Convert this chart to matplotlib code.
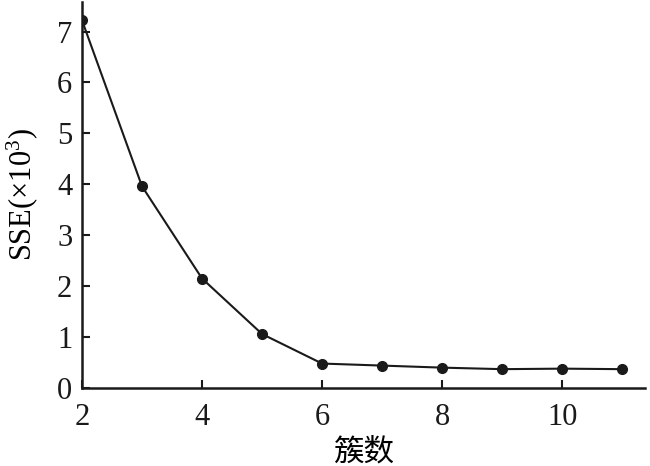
import matplotlib
matplotlib.use("Agg")
import matplotlib.pyplot as plt

plt.rcParams['font.family'] = ['Liberation Serif', 'Noto Sans CJK SC']
plt.rcParams['mathtext.fontset'] = 'custom'
plt.rcParams['mathtext.rm'] = 'Liberation Serif'
plt.rcParams['mathtext.it'] = 'Liberation Serif:italic'

clusters = [2, 3, 4, 5, 6, 7, 8, 9, 10, 11]
sse = [7.22, 3.96, 2.15, 1.06, 0.48, 0.44, 0.40, 0.37, 0.38, 0.37]
xticks = [2, 4, 6, 8, 10]
yticks = [0, 1, 2, 3, 4, 5, 6, 7]

fig = plt.figure(figsize=(6.5, 4.66), dpi=100)
ax = fig.add_axes([82/650, 1-388/466, (645-82)/650, 386/466])
ax.plot(clusters, sse, color='#1a1a1a', lw=1.5, marker='o', ms=7, mfc='#1a1a1a', mec='#1a1a1a')
ax.set_xlim(2, 11.38)
ax.set_ylim(0, 7.58)
ax.set_xticks(xticks)
ax.set_yticks(yticks)
for s in ['top', 'right']:
    ax.spines[s].set_visible(False)
for s in ['left', 'bottom']:
    ax.spines[s].set_linewidth(1.8)
    ax.spines[s].set_color('#1a1a1a')
ax.tick_params(direction='in', length=6, width=1.5, labelsize=22, pad=7, colors='#1a1a1a')
ax.tick_params(axis='x', pad=11)
ax.set_ylabel(r'SSE($\times$10$^3$)', fontsize=22, labelpad=12)
ax.set_xlabel('簇数', fontsize=22, family=['Noto Sans CJK SC'], va='center')
ax.xaxis.set_label_coords(0.5, -0.165)
fig.savefig('out.png', dpi=100)
